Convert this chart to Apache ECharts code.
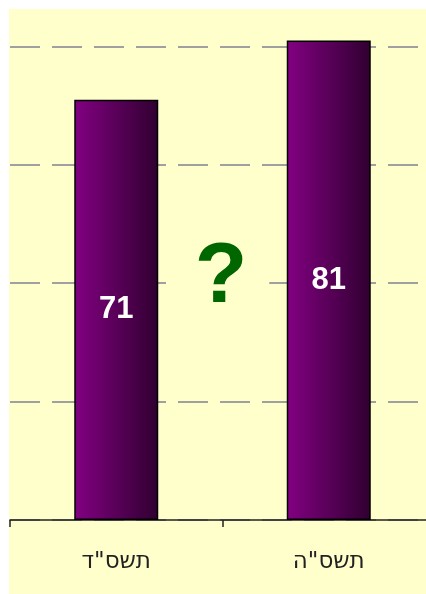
<!DOCTYPE html>
<html>
<head>
<meta charset="utf-8">
<script src="https://cdn.jsdelivr.net/npm/echarts@6/dist/echarts.min.js"></script>
<style>
html,body{margin:0;padding:0;background:#ffffff;}
#chart{width:426px;height:594px;}
</style>
</head>
<body>
<div id="chart"></div>
<script>
const categories = ['תשס"ד', 'תשס"ה'];
const values = [71, 81];
const yMin = 0, yMax = 100, yInterval = 20;
const centerMark = '?';

const chart = echarts.init(document.getElementById('chart'), null, {renderer: 'canvas'});
const option = {
  backgroundColor: '#ffffff',
  animation: false,
  graphic: [
    {type: 'rect', z: -10, shape: {x: 9, y: 9, width: 417, height: 585}, style: {fill: '#FFFFCC'}, silent: true},
    {type: 'text', z: 100, style: {
      text: centerMark, x: 221, y: 278, align: 'center', verticalAlign: 'middle',
      font: 'bold 86px "Liberation Sans", Arial, sans-serif', fill: '#006600',
      backgroundColor: '#FFFFCC', padding: [0, 22]
    }}
  ],
  grid: {left: 10, right: -9, top: -72, bottom: 74, containLabel: false, outerBoundsMode: 'none'},
  xAxis: {
    type: 'category', data: categories,
    axisLine: {show: true, lineStyle: {color: '#222222', width: 1.5}},
    axisTick: {show: true, length: 7, lineStyle: {color: '#222222', width: 1.5}},
    axisLabel: {margin: 31, fontSize: 23, color: '#222222', fontFamily: '"DejaVu Sans", Arial, sans-serif'}
  },
  yAxis: {
    type: 'value', min: yMin, max: yMax, interval: yInterval,
    axisLine: {show: false}, axisTick: {show: false}, axisLabel: {show: false},
    splitLine: {show: true, lineStyle: {color: '#a0a0a0', width: 2, type: [30, 12]}}
  },
  series: [{
    type: 'bar', data: values, barWidth: 84,
    itemStyle: {
      color: new echarts.graphic.LinearGradient(0, 0, 1, 0, [
        {offset: 0, color: '#820082'}, {offset: 1, color: '#300030'}
      ]),
      borderColor: '#000000', borderWidth: 1.5
    },
    label: {
      show: true, position: 'inside', color: '#ffffff', fontSize: 31, fontWeight: 'bold',
      fontFamily: '"Liberation Sans", Arial, sans-serif'
    }
  }]
};
chart.setOption(option);
</script>
</body>
</html>
